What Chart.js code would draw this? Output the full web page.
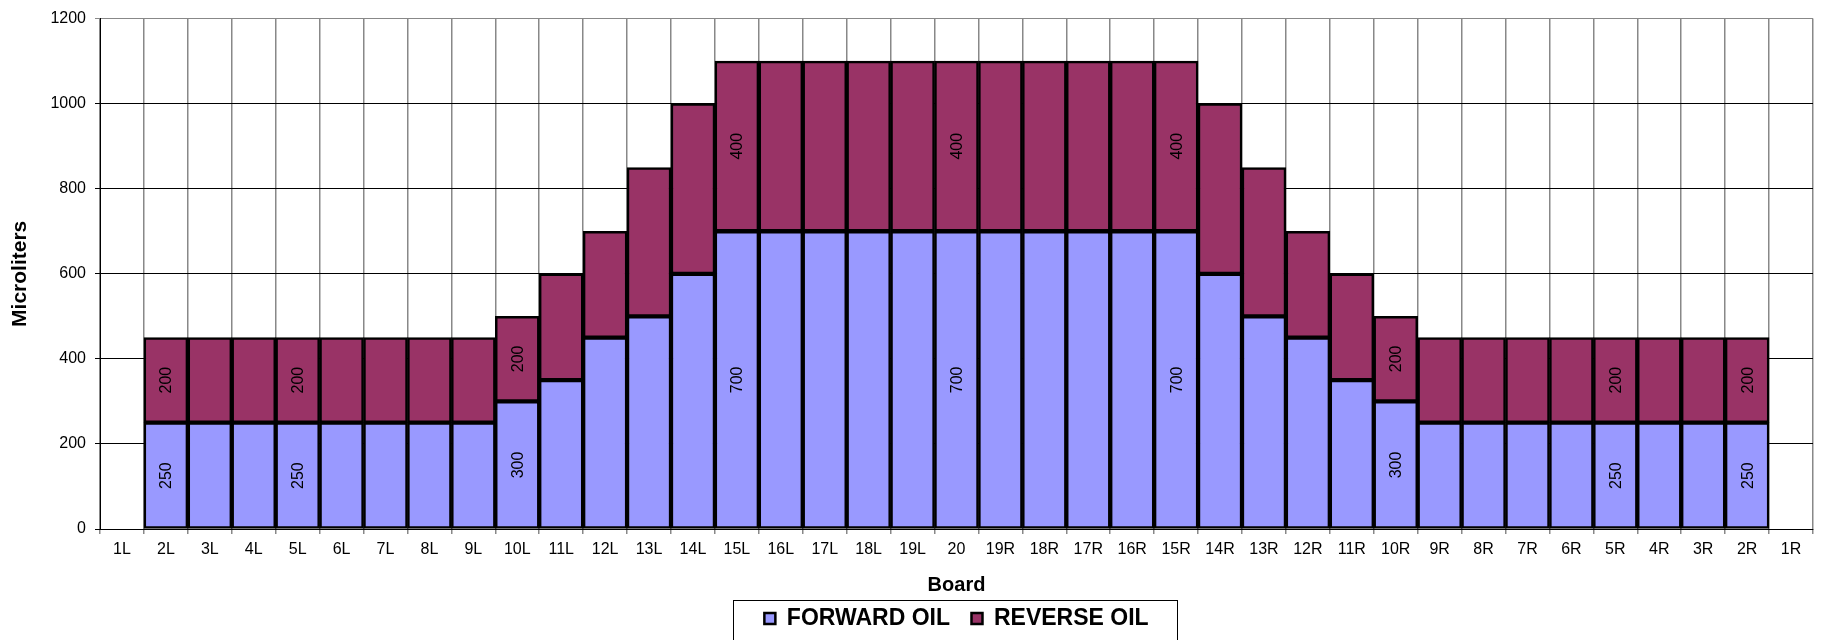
<!DOCTYPE html>
<html>
<head>
<meta charset="utf-8">
<title>Forward / Reverse Oil</title>
<script src="https://cdn.jsdelivr.net/npm/chart.js@4/dist/chart.umd.min.js"></script>
<style>
  html, body { margin: 0; padding: 0; background: #fff; }
  canvas { display: block; }
</style>
</head>
<body>
<canvas id="grafico" width="1829" height="640"></canvas>
<script>
/* ===============================
   DADOS
================================ */

const boards = [
  '1L', '2L', '3L', '4L', '5L', '6L', '7L', '8L', '9L', '10L',
  '11L', '12L', '13L', '14L', '15L', '16L', '17L', '18L', '19L', '20',
  '19R', '18R', '17R', '16R', '15R', '14R', '13R', '12R', '11R', '10R',
  '9R', '8R', '7R', '6R', '5R', '4R', '3R', '2R', '1R'
];

const forwardOil = [
  null, 250, 250, 250, 250, 250, 250, 250, 250, 300,
  350, 450, 500, 600, 700, 700, 700, 700, 700, 700,
  700, 700, 700, 700, 700, 600, 500, 450, 350, 300,
  250, 250, 250, 250, 250, 250, 250, 250, null
];

const reverseOil = [
  null, 200, 200, 200, 200, 200, 200, 200, 200, 200,
  250, 250, 350, 400, 400, 400, 400, 400, 400, 400,
  400, 400, 400, 400, 400, 400, 350, 250, 250, 200,
  200, 200, 200, 200, 200, 200, 200, 200, null
];

// boards whose segments carry a value label
const labeledBoards = ['2L', '5L', '10L', '15L', '20', '15R', '10R', '5R', '2R'];

const yTicks = [0, 200, 400, 600, 800, 1000, 1200];

/* ===============================
   PLUGINS
================================ */

// value labels, rotated, centered in each segment
const rotuloValores = {
  id: 'rotuloValores',
  afterDatasetsDraw(chart) {
    const ctx = chart.ctx;
    ctx.save();
    ctx.font = '16px "Liberation Sans", Arial, sans-serif';
    ctx.fillStyle = '#000';
    ctx.textAlign = 'center';
    ctx.textBaseline = 'middle';
    chart.data.datasets.forEach((ds, di) => {
      const meta = chart.getDatasetMeta(di);
      meta.data.forEach((bar, i) => {
        if (!labeledBoards.includes(boards[i]) || ds.data[i] == null) return;
        const y = (bar.y + bar.base) / 2;
        ctx.save();
        ctx.translate(bar.x, y);
        ctx.rotate(-Math.PI / 2);
        ctx.fillText(String(ds.data[i]), 0, 1);
        ctx.restore();
      });
    });
    ctx.restore();
  }
};

// frame around the legend
const caixaLegenda = {
  id: 'caixaLegenda',
  afterDraw(chart) {
    const lg = chart.legend;
    if (!lg || !lg.legendHitBoxes || !lg.legendHitBoxes.length) return;
    const hb = lg.legendHitBoxes;
    const first = hb[0];
    const last = hb[hb.length - 1];
    const left = Math.round(first.left - 31) + 0.5;
    const right = Math.round(last.left + last.width + 28) + 0.5;
    const top = 600.5;
    const ctx = chart.ctx;
    ctx.save();
    ctx.strokeStyle = '#000';
    ctx.lineWidth = 1;
    ctx.strokeRect(left, top, right - left, chart.height + 10 - top);
    ctx.restore();
  }
};

/* ===============================
   GRÁFICO
================================ */

const fonte = '"Liberation Sans", Arial, sans-serif';

new Chart(document.getElementById('grafico'), {
  type: 'bar',
  data: {
    labels: boards,
    datasets: [
      {
        label: 'FORWARD OIL',
        data: forwardOil,
        backgroundColor: '#9999FF',
        borderColor: '#000',
        borderWidth: 2.5,
        borderSkipped: false,
        categoryPercentage: 1,
        barPercentage: 1
      },
      {
        label: 'REVERSE OIL',
        data: reverseOil,
        backgroundColor: '#993366',
        borderColor: '#000',
        borderWidth: 2.5,
        borderSkipped: false,
        categoryPercentage: 1,
        barPercentage: 1
      }
    ]
  },
  options: {
    responsive: false,
    animation: false,
    devicePixelRatio: 1,
    layout: {
      padding: { left: 0, right: 16, top: 15, bottom: 0 }
    },
    plugins: {
      tooltip: { enabled: false },
      legend: {
        display: true,
        position: 'bottom',
        fullSize: false,
        labels: {
          color: '#000',
          font: { family: fonte, size: 23, weight: 'bold' },
          boxWidth: 11,
          boxHeight: 11,
          padding: 10,
          generateLabels(chart) {
            return chart.data.datasets.map((ds, i) => ({
              text: i === 0 ? ds.label + '\u2002' : ds.label,
              fillStyle: ds.backgroundColor,
              strokeStyle: '#000',
              lineWidth: 2.5,
              hidden: false,
              datasetIndex: i
            }));
          }
        }
      }
    },
    scales: {
      x: {
        stacked: true,
        grid: {
          offset: true,
          color: '#888',
          lineWidth: 1.5,
          tickLength: 5
        },
        border: { color: '#000', width: 1 },
        ticks: {
          color: '#000',
          font: { family: fonte, size: 16 },
          padding: 6,
          maxRotation: 0,
          autoSkip: false
        },
        title: {
          display: true,
          text: 'Board',
          color: '#000',
          font: { family: fonte, size: 20, weight: 'bold' },
          padding: { top: 12, bottom: 0 }
        },
        afterFit: scale => { scale.height = 68; }
      },
      y: {
        stacked: true,
        min: 0,
        max: 1200,
        afterBuildTicks: scale => {
          scale.ticks = yTicks.map(v => ({ value: v }));
        },
        grid: {
          color: c => (c.tick && c.tick.value === 1200 ? '#888' : '#000'),
          lineWidth: 1,
          tickLength: 5
        },
        border: { color: '#000', width: 1 },
        ticks: {
          color: '#000',
          font: { family: fonte, size: 16 },
          padding: 9,
          callback: v => String(v)
        },
        title: {
          display: true,
          text: 'Microliters',
          color: '#000',
          font: { family: fonte, size: 21, weight: 'bold' },
          padding: { top: 8, bottom: 0 }
        },
        afterFit: scale => { scale.width = 100; }
      }
    }
  },
  plugins: [rotuloValores, caixaLegenda]
});
</script>
</body>
</html>
